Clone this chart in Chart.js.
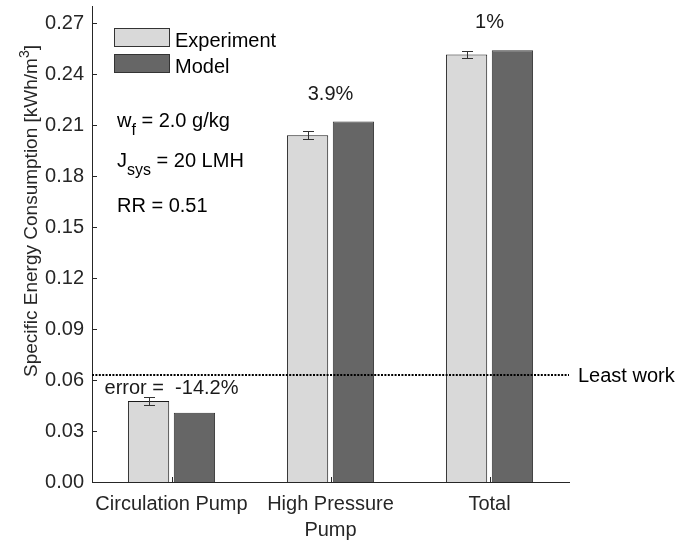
<!DOCTYPE html>
<html>
<head>
<meta charset="utf-8">
<script src="https://cdn.jsdelivr.net/npm/chart.js@4.4.1/dist/chart.umd.min.js"></script>
<style>
  html, body { margin: 0; padding: 0; background: #ffffff; }
  #c { display: block; }
</style>
</head>
<body>
<canvas id="c" width="677" height="543"></canvas>
<script>
// Specific energy consumption per component (kWh/m3)
const categories = [['Circulation Pump'], ['High Pressure', 'Pump'], ['Total']];
const experiment = [0.0476, 0.204, 0.2515];
const experimentErr = [0.0025, 0.0025, 0.0023];
const model = [0.0408, 0.212, 0.254];
const errorLabels = ['error =  -14.2%', '3.9%', '1%'];
const errorLabelY = [0.0553, 0.228, 0.2705];
const leastWork = 0.063;
const yTicks = [0, 0.03, 0.06, 0.09, 0.12, 0.15, 0.18, 0.21, 0.24, 0.27];

const FONT = "'Liberation Sans', Arial, Helvetica, sans-serif";
const AXIS_COLOR = '#262626';
const EXP_FILL = '#d9d9d9';
const MODEL_FILL = '#666666';

Chart.defaults.font.family = FONT;
Chart.defaults.font.size = 20;
Chart.defaults.color = AXIS_COLOR;

// Inward tick marks on both axes (box off)
const tickMarks = {
  id: 'tickMarks',
  afterDraw(chart) {
    const { ctx, chartArea: a, scales } = chart;
    ctx.save();
    ctx.strokeStyle = AXIS_COLOR;
    ctx.lineWidth = 1;
    ctx.beginPath();
    scales.y.ticks.forEach(t => {
      const py = Math.round(scales.y.getPixelForValue(t.value)) + 0.5;
      ctx.moveTo(a.left, py);
      ctx.lineTo(a.left + 5, py);
    });
    categories.forEach((c, i) => {
      const px = Math.round(scales.x.getPixelForValue(i)) + 0.5;
      ctx.moveTo(px, a.bottom);
      ctx.lineTo(px, a.bottom - 5);
    });
    ctx.stroke();
    ctx.restore();
  }
};

// Error bars on the experimental series
const errorBars = {
  id: 'errorBars',
  afterDatasetsDraw(chart) {
    const { ctx, scales } = chart;
    const meta = chart.getDatasetMeta(0);
    ctx.save();
    ctx.strokeStyle = '#333333';
    ctx.lineWidth = 1;
    meta.data.forEach((bar, i) => {
      const x = Math.round(bar.x) + 0.5;
      const yHi = Math.round(scales.y.getPixelForValue(experiment[i] + experimentErr[i])) + 0.5;
      const yLo = Math.round(scales.y.getPixelForValue(experiment[i] - experimentErr[i])) + 0.5;
      ctx.beginPath();
      ctx.moveTo(x, yHi); ctx.lineTo(x, yLo);
      ctx.moveTo(x - 5.5, yHi); ctx.lineTo(x + 5.5, yHi);
      ctx.moveTo(x - 5.5, yLo); ctx.lineTo(x + 5.5, yLo);
      ctx.stroke();
    });
    ctx.restore();
  }
};

// Least-work reference line, error labels, legend, parameters and axis title
const overlays = {
  id: 'overlays',
  afterDraw(chart) {
    const { ctx, chartArea: a, scales } = chart;
    ctx.save();

    // dotted least-work line
    const yl = Math.round(scales.y.getPixelForValue(leastWork));
    ctx.strokeStyle = '#000000';
    ctx.lineWidth = 2;
    ctx.setLineDash([2, 1.4]);
    ctx.beginPath();
    ctx.moveTo(a.left, yl);
    ctx.lineTo(a.right, yl);
    ctx.stroke();
    ctx.setLineDash([]);

    ctx.fillStyle = '#000000';
    ctx.font = '20px ' + FONT;
    ctx.textAlign = 'left';
    ctx.textBaseline = 'middle';
    ctx.fillText('Least work', a.right + 9, yl + 1.5);

    // relative error labels
    ctx.fillStyle = '#1a1a1a';
    ctx.textAlign = 'center';
    errorLabels.forEach((t, i) => {
      ctx.fillText(t, scales.x.getPixelForValue(i), scales.y.getPixelForValue(errorLabelY[i]));
    });

    // legend
    const items = [
      { label: chart.data.datasets[0].label, fill: EXP_FILL, top: 28 },
      { label: chart.data.datasets[1].label, fill: MODEL_FILL, top: 54 }
    ];
    ctx.textAlign = 'left';
    ctx.textBaseline = 'alphabetic';
    items.forEach(it => {
      ctx.fillStyle = it.fill;
      ctx.fillRect(114, it.top, 56, 19);
      ctx.strokeStyle = '#333333';
      ctx.lineWidth = 1;
      ctx.strokeRect(114.5, it.top + 0.5, 55, 18);
      ctx.fillStyle = '#000000';
      ctx.fillText(it.label, 175, it.top + 18.5);
    });

    // operating parameters with subscripts
    const drawParts = (x, y, parts) => {
      parts.forEach(p => {
        ctx.font = (p.sub ? '16px ' : '20px ') + FONT;
        ctx.fillText(p.t, x, y + (p.sub ? 8 : 0));
        x += ctx.measureText(p.t).width;
      });
    };
    ctx.fillStyle = '#000000';
    drawParts(117, 127, [{ t: 'w' }, { t: 'f', sub: true }, { t: ' = 2.0 g/kg' }]);
    drawParts(117, 167, [{ t: 'J' }, { t: 'sys', sub: true }, { t: ' = 20 LMH' }]);
    drawParts(117, 212, [{ t: 'RR = 0.51' }]);

    // y-axis title with superscript
    ctx.translate(37, 377);
    ctx.rotate(-Math.PI / 2);
    ctx.fillStyle = AXIS_COLOR;
    let x = 0;
    [{ t: 'Specific Energy Consumption [kWh/m' }, { t: '3', sup: true }, { t: ']' }].forEach(p => {
      ctx.font = (p.sup ? '14px ' : '19px ') + FONT;
      ctx.fillText(p.t, x, p.sup ? -8 : 0);
      x += ctx.measureText(p.t).width;
    });

    ctx.restore();
  }
};

new Chart(document.getElementById('c'), {
  type: 'bar',
  data: {
    labels: categories,
    datasets: [
      {
        label: 'Experiment',
        data: experiment,
        backgroundColor: EXP_FILL,
        borderColor: '#1a1a1a',
        borderWidth: 1,
        categoryPercentage: 0.577,
        barPercentage: 0.9
      },
      {
        label: 'Model',
        data: model,
        backgroundColor: MODEL_FILL,
        borderColor: '#333333',
        borderWidth: 1,
        categoryPercentage: 0.577,
        barPercentage: 0.9
      }
    ]
  },
  options: {
    responsive: false,
    animation: false,
    devicePixelRatio: 1,
    layout: { padding: { left: 0, right: 108, top: 6, bottom: 0 } },
    plugins: {
      legend: { display: false },
      tooltip: { enabled: false }
    },
    scales: {
      x: {
        grid: { display: false, drawTicks: false },
        border: { display: true, color: AXIS_COLOR, width: 1 },
        ticks: {
          color: AXIS_COLOR,
          padding: 10,
          maxRotation: 0,
          autoSkip: false,
          font: { size: 20, lineHeight: 1.28 }
        },
        afterFit(scale) {
          scale.height = 61;
          scale.paddingLeft = 0;
          scale.paddingRight = 0;
        }
      },
      y: {
        min: 0,
        max: 0.28,
        grid: { display: false, drawTicks: false },
        border: { display: true, color: AXIS_COLOR, width: 1 },
        ticks: {
          color: AXIS_COLOR,
          padding: 8,
          font: { size: 20 },
          callback: v => Number(v).toFixed(2)
        },
        afterBuildTicks(scale) {
          scale.ticks = yTicks.map(v => ({ value: v }));
        },
        afterFit(scale) {
          scale.width = 92;
          scale.paddingTop = 0;
          scale.paddingBottom = 0;
        }
      }
    }
  },
  plugins: [errorBars, overlays, tickMarks]
});
</script>
</body>
</html>
